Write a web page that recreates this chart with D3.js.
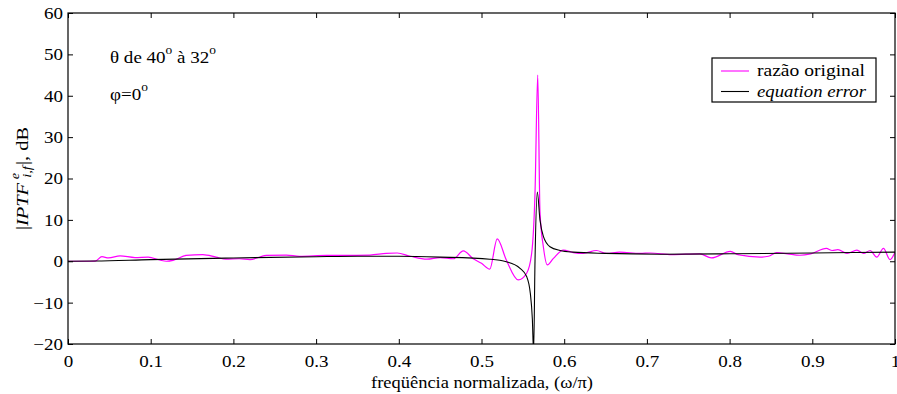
<!DOCTYPE html>
<html>
<head>
<meta charset="utf-8">
<script src="https://cdn.jsdelivr.net/npm/d3@7"></script>
<style>
  body { margin: 0; background: #fff; }
</style>
</head>
<body>
<div id="chart"></div>
<script>
// --------------------------------------------------
// data

var freqOriginal = [0, 0.02, 0.033, 0.041, 0.049, 0.063, 0.081, 0.097, 0.111, 0.119,
    0.127, 0.143, 0.163, 0.179, 0.191, 0.207, 0.220, 0.240, 0.264, 0.280,
    0.313, 0.333, 0.365, 0.385, 0.398, 0.414, 0.434, 0.450, 0.466, 0.478,
    0.490, 0.500, 0.510, 0.519, 0.530, 0.5445, 0.5546, 0.5607, 0.5647, 0.568,
    0.5707, 0.5748, 0.5796, 0.587, 0.599, 0.611, 0.623, 0.639, 0.651, 0.667,
    0.692, 0.704, 0.730, 0.764, 0.778, 0.801, 0.810, 0.837, 0.847, 0.857,
    0.870, 0.885, 0.898, 0.917, 0.924, 0.931, 0.942, 0.954, 0.962, 0.970,
    0.978, 0.986, 0.994, 1.0];
var razaoOriginal = [0, 0, 0.05, 1.1, 0.8, 1.3, 0.9, 1.0, 0.3, 0.0,
    0.2, 1.4, 1.6, 1.0, 0.5, 0.6, 0.4, 1.4, 1.5, 1.2,
    1.4, 1.4, 1.5, 1.9, 2.0, 1.2, 0.5, 0.9, 0.6, 2.5,
    0.6, -0.5, -1.9, 5.4, 0.3, -4.5, -2.9, 2.0, 16.5, 45,
    12, 3.5, -0.9, 0.7, 2.7, 2.1, 1.9, 2.6, 1.9, 2.2,
    1.9, 2.0, 1.6, 1.8, 0.8, 2.4, 1.6, 1.0, 1.2, 2.1,
    1.8, 1.45, 1.8, 3.1, 2.6, 2.8, 1.9, 2.7, 1.9, 2.6,
    1.0, 3.1, 0.4, 2.2];

var freqEquation = [0, 0.033, 0.1, 0.2, 0.3, 0.35, 0.4, 0.45, 0.51, 0.53,
    0.5466, 0.5546, 0.559, 0.5615, 0.563, 0.5647, 0.5675, 0.5707, 0.5748, 0.5828,
    0.595, 0.611, 0.65, 0.716, 0.8, 0.9, 1.0];
var equationError = [0, 0.05, 0.4, 0.8, 1.1, 1.2, 1.2, 1.0, 0.5, -0.1,
    -1.7, -3.7, -7.7, -14, -22, 0, 16.7, 10, 6, 3.5,
    2.6, 2.2, 1.9, 1.7, 1.8, 2.0, 2.2];

var xTicks = [0, 0.1, 0.2, 0.3, 0.4, 0.5, 0.6, 0.7, 0.8, 0.9, 1];
var yTicks = [-20, -10, 0, 10, 20, 30, 40, 50, 60];

var seriesNames = ["razão original", "equation error"];
var seriesColors = ["#ff00ff", "#000000"];

// --------------------------------------------------

var margin = { left: 68, right: 2, top: 13, bottom: 50 };
var width = 897 - margin.left - margin.right;
var height = 394 - margin.top - margin.bottom;
var fontSize = "17px";
var serif = "'Liberation Serif'";
var sx = 1.12;   // the picture's lettering runs a little wider than Times

var svg = d3.select("#chart")
    .append("svg")
    .attr("width", width + margin.left + margin.right)
    .attr("height", height + margin.top + margin.bottom);

var g = svg.append("g")
    .attr("transform", "translate(" + margin.left + ", " + margin.top + ")");

var x = d3.scaleLinear().domain([0, 1]).range([0, width]);
var y = d3.scaleLinear().domain([-20, 60]).range([height, 0]);

g.append("clipPath")
    .attr("id", "clip")
    .append("rect")
    .attr("width", width)
    .attr("height", height);

var line = d3.line()
    .x(function(d) { return x(d[0]); })
    .y(function(d) { return y(d[1]); })
    .curve(d3.curveMonotoneX);

var lines = g.append("g").attr("clip-path", "url(#clip)");

lines.append("path")
    .datum(d3.zip(freqOriginal, razaoOriginal))
    .attr("d", line)
    .attr("fill", "none")
    .attr("stroke", seriesColors[0])
    .attr("stroke-width", 1.2);

lines.append("path")
    .datum(d3.zip(freqEquation, equationError))
    .attr("d", line)
    .attr("fill", "none")
    .attr("stroke", seriesColors[1])
    .attr("stroke-width", 1.1);

// axes, ticks pointing inward on all four sides
var xAxis = g.append("g")
    .attr("transform", "translate(0, " + height + ")")
    .call(d3.axisBottom(x).tickValues(xTicks).tickSizeInner(-5).tickSizeOuter(0)
        .tickPadding(11).tickFormat(function(d) { return String(d); }));

var yAxis = g.append("g")
    .call(d3.axisLeft(y).tickValues(yTicks).tickSizeInner(-5).tickSizeOuter(0)
        .tickPadding(5).tickFormat(function(d) { return d < 0 ? "\u2212" + (-d) : d; }));

g.append("g")
    .call(d3.axisTop(x).tickValues(xTicks).tickSizeInner(-5).tickSizeOuter(0).tickFormat(""));
g.append("g")
    .attr("transform", "translate(" + width + ", 0)")
    .call(d3.axisRight(y).tickValues(yTicks).tickSizeInner(-5).tickSizeOuter(0).tickFormat(""));

g.selectAll(".domain").remove();
g.selectAll(".tick line").attr("stroke", "#000");
g.selectAll(".tick text").attr("fill", "#000");

g.append("rect")
    .attr("width", width)
    .attr("height", height)
    .attr("fill", "none")
    .attr("stroke", "#000")
    .attr("stroke-width", 1.2);

function serifText(sel) {
    sel.style("font-family", serif).style("font-size", fontSize);
}

function place(sel, px, py) {
    sel.attr("transform", "translate(" + px + "," + py + ") scale(" + sx + ",1)");
}

serifText(g.selectAll(".tick text"));
xAxis.selectAll(".tick text").attr("transform", "scale(" + sx + ",1)");
yAxis.selectAll(".tick text")
    .attr("x", -5 / sx)
    .attr("transform", "scale(" + sx + ",1)");

// x label
var xLabel = g.append("text")
    .attr("text-anchor", "middle")
    .attr("x", 482 - margin.left)
    .attr("y", 388 - margin.top)
    .attr("textLength", 222)
    .attr("lengthAdjust", "spacingAndGlyphs")
    .text("freqüência normalizada, (ω/π)");
serifText(xLabel);

// y label
var yLabel = g.append("text")
    .attr("text-anchor", "middle")
    .attr("transform", "translate(" + (28 - margin.left) + "," + (height / 2) + ") rotate(-90) scale(1.2,1)");
serifText(yLabel);
yLabel.append("tspan").text("|");
yLabel.append("tspan").style("font-style", "italic").text("IPTF");
yLabel.append("tspan").style("font-style", "italic").style("font-size", "12px")
    .attr("dx", 3).attr("dy", -9).text("e");
yLabel.append("tspan").style("font-style", "italic").style("font-size", "12px")
    .attr("dx", -4).attr("dy", 12).text("i,f");
yLabel.append("tspan").attr("dx", 1).attr("dy", -3).text("|, dB");

// annotations
var note1 = g.append("text");
serifText(note1);
place(note1, 110 - margin.left, 63 - margin.top);
note1.append("tspan").text("θ de 40");
note1.append("tspan").style("font-size", "12px").attr("dy", -9).text("o");
note1.append("tspan").attr("dy", 9).text(" à 32");
note1.append("tspan").style("font-size", "12px").attr("dy", -9).text("o");

var note2 = g.append("text");
serifText(note2);
place(note2, 110 - margin.left, 100 - margin.top);
note2.append("tspan").text("φ=0");
note2.append("tspan").style("font-size", "12px").attr("dy", -9).text("o");

// legend
var legendWidths = [108, 109];
var legend = g.append("g")
    .attr("transform", "translate(" + (712 - margin.left) + "," + (58 - margin.top) + ")");

legend.append("rect")
    .attr("width", 164)
    .attr("height", 44)
    .attr("fill", "#fff")
    .attr("stroke", "#000")
    .attr("stroke-width", 1.2);

seriesNames.forEach(function(name, i) {
    var row = legend.append("g").attr("transform", "translate(0," + (13 + i * 20.5) + ")");
    row.append("line")
        .attr("x1", 9).attr("x2", 37)
        .attr("stroke", seriesColors[i])
        .attr("stroke-width", 1.1);
    var t = row.append("text")
        .attr("x", 45)
        .attr("y", 5)
        .attr("textLength", legendWidths[i])
        .attr("lengthAdjust", "spacingAndGlyphs")
        .style("font-style", i === 1 ? "italic" : null)
        .text(name);
    serifText(t);
});
</script>
</body>
</html>
